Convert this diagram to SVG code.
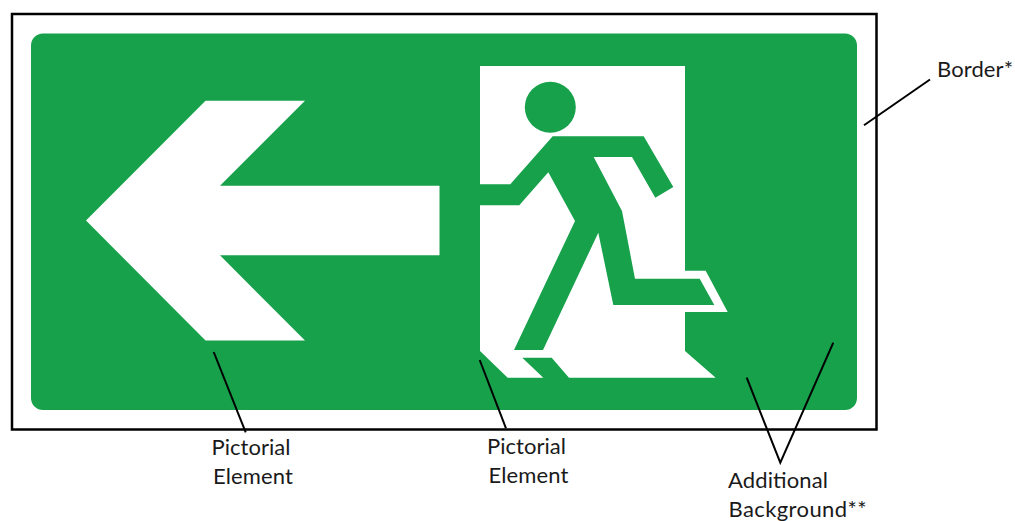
<svg xmlns="http://www.w3.org/2000/svg" width="1015" height="521" viewBox="0 0 1015 521">
<style>
.leader{stroke:#000;stroke-width:2;fill:none}
.label{font-family:Lato,"Liberation Sans",sans-serif;font-size:22px;fill:#1a1a1a}
.g{fill:#17a14b}
.w{fill:#fff}
</style>
<rect width="1015" height="521" fill="#fff"/>
<g id="border"><rect x="12" y="14" width="864.5" height="415.5" fill="#fff" stroke="#000" stroke-width="2.5"/></g>
<g id="background"><rect class="g" x="31" y="33.5" width="826" height="376.5" rx="12" ry="12"/></g>
<g id="arrow"><polygon class="w" points="86,220.5 205.5,100.7 305,100.7 220,185.7 439.5,185.7 439.5,255.3 220,255.3 305,340.5 205.5,340.5"/></g>
<g id="runner">
<polygon class="w" points="480,66 685,66 685,270.7 705.7,270.7 727.7,312 685,312 685,351 715.7,377.7 569,377.7 551.7,357.7 522.3,357.7 543.3,377.7 507.7,377.7 480,351"/>
<circle class="g" cx="550.3" cy="107.3" r="25.5"/>
<polygon class="g" points="480,184.3 510.3,184.3 552.7,136.3 643.7,136.3 673.3,187 655.3,197.7 632,157 593.7,157 622,211 635,278.7 699.7,278.7 714.3,305 613.3,305 598.3,232.7 543,350 514,350 575,221 548.3,172.3 519.3,205.3 480,205.3"/>
</g>
<g id="connectors">
<line class="leader" x1="864" y1="125.3" x2="930" y2="79.5"/>
<line class="leader" x1="213.7" y1="352" x2="245.7" y2="432.3"/>
<line class="leader" x1="479.7" y1="360" x2="506" y2="428.3"/>
<polyline class="leader" points="746.7,377.7 780.3,462.7 833.3,342.7"/>
</g>
<g id="labels">
<text class="label" x="937" y="76.5" textLength="76" lengthAdjust="spacing">Border*</text>
<text class="label" x="211.5" y="455" textLength="79" lengthAdjust="spacing">Pictorial</text>
<text class="label" x="213" y="484" textLength="80" lengthAdjust="spacing">Element</text>
<text class="label" x="487" y="454" textLength="79" lengthAdjust="spacing">Pictorial</text>
<text class="label" x="488.5" y="483" textLength="80" lengthAdjust="spacing">Element</text>
<text class="label" x="728" y="487.5" textLength="100" lengthAdjust="spacing">Additional</text>
<text class="label" x="728.5" y="517" textLength="138" lengthAdjust="spacing">Background**</text>
</g>
</svg>
